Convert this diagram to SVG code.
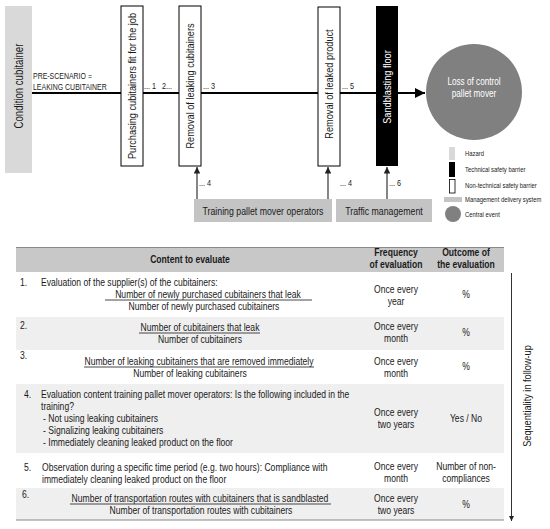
<svg xmlns="http://www.w3.org/2000/svg" width="550" height="529" viewBox="0 0 550 529">
<defs>
<marker id="ahMain" viewBox="0 0 10 10" refX="10" refY="5" markerWidth="5" markerHeight="5" orient="auto" markerUnits="strokeWidth"><path d="M0,0 L10,5 L0,10 z" fill="#000"/></marker>
<marker id="ahUp" viewBox="0 0 10 10" refX="10" refY="5" markerWidth="5" markerHeight="5" orient="auto" markerUnits="strokeWidth"><path d="M0,0 L10,5 L0,10 z" fill="#222"/></marker>
</defs>
<style>
text{font-family:"Liberation Sans",Arial,sans-serif;fill:#1a1a1a}
.lbl{font-size:10.7px}
.sm{font-size:8.4px}
.lg{font-size:7px}
.t{font-size:10px}
.tb{font-size:10px;font-weight:bold}
.c{text-anchor:middle}
.w{fill:#fff}
.box{fill:#fff;stroke:#000;stroke-width:1}
.mgmt{fill:#c4c4c4}
.bar{stroke:#1a1a1a;stroke-width:0.8}
</style>
<rect width="550" height="529" fill="#fff"/>

<g id="connectors">
<line x1="32" y1="93" x2="425" y2="93" stroke="#000" stroke-width="2" marker-end="url(#ahMain)"/>
<line x1="197" y1="199" x2="197" y2="167" stroke="#444" stroke-width="1.3" marker-end="url(#ahUp)"/>
<line x1="328" y1="199" x2="328" y2="167" stroke="#444" stroke-width="1.3" marker-end="url(#ahUp)"/>
<line x1="387" y1="199" x2="387" y2="167" stroke="#444" stroke-width="1.3" marker-end="url(#ahUp)"/>
<text class="sm" transform="translate(144,89) scale(.86,1)">... 1</text>
<text class="sm" transform="translate(162,89) scale(.86,1)">2...</text>
<text class="sm" transform="translate(203,89) scale(.86,1)">... 3</text>
<text class="sm" transform="translate(342,89) scale(.86,1)">... 5</text>
<text class="sm" transform="translate(199,186) scale(.86,1)">... 4</text>
<text class="sm" transform="translate(340,186) scale(.86,1)">... 4</text>
<text class="sm" transform="translate(389,186) scale(.86,1)">... 6</text>
</g>

<g id="hazard">
<rect x="5" y="6" width="27" height="167" fill="#d9d9d9"/>
<text class="c" font-size="12px" transform="translate(22.8,86) rotate(-90) scale(.8,1)">Condition cubitainer</text>
<text class="sm" transform="translate(33,79) scale(.83,1)">PRE-SCENARIO =</text>
<text class="sm" transform="translate(33,90) scale(.83,1)">LEAKING CUBITAINER</text>
</g>

<g id="barrier-purchasing">
<rect class="box" x="121" y="6" width="22" height="160"/>
<text class="lbl c" transform="translate(135.8,86) rotate(-90) scale(.86,1)">Purchasing cubitainers fit for the job</text>
</g>
<g id="barrier-removal-cubitainers">
<rect class="box" x="179" y="6" width="22" height="160"/>
<text class="lbl c" transform="translate(193.8,86) rotate(-90) scale(.86,1)">Removal of leaking cubitainers</text>
</g>
<g id="barrier-removal-product">
<rect class="box" x="318" y="7" width="22" height="159"/>
<text class="lbl c" transform="translate(332.8,84) rotate(-90) scale(.86,1)">Removal of leaked product</text>
</g>
<g id="barrier-sandblasting">
<rect x="376" y="6" width="22" height="160" fill="#000"/>
<text class="lbl c w" transform="translate(390.8,87) rotate(-90) scale(.86,1)">Sandblasting floor</text>
</g>
<g id="mgmt-training">
<rect class="mgmt" x="194" y="199" width="138" height="23"/>
<text class="c" font-size="10.2px" transform="translate(263,214.5) scale(.86,1)">Training pallet mover operators</text>
</g>
<g id="mgmt-traffic">
<rect class="mgmt" x="336" y="199" width="96" height="23"/>
<text class="c" font-size="10.2px" transform="translate(384,214.5) scale(.86,1)">Traffic management</text>
</g>
<g id="central-event">
<circle cx="474" cy="92" r="48" fill="#808080"/>
<text class="c w" font-size="10px" transform="translate(474,85) scale(.82,1)">Loss of control</text>
<text class="c w" font-size="10px" transform="translate(474,97) scale(.82,1)">pallet mover</text>
</g>

<g id="legend">
<rect x="449" y="147" width="6" height="13" fill="#d9d9d9"/>
<text class="lg" transform="translate(465,156) scale(.84,1)">Hazard</text>
<rect x="449" y="162" width="6" height="15" fill="#000"/>
<text class="lg" transform="translate(465,172) scale(.84,1)">Technical safety barrier</text>
<rect x="449.5" y="179.5" width="5.5" height="13.5" fill="#fff" stroke="#000" stroke-width="0.8"/>
<text class="lg" transform="translate(465,188) scale(.84,1)">Non-technical safety barrier</text>
<rect x="444" y="197" width="18" height="5" fill="#c4c4c4"/>
<text class="lg" transform="translate(465,202) scale(.84,1)">Management delivery system</text>
<circle cx="453" cy="214" r="8" fill="#808080"/>
<text class="lg" transform="translate(465,217) scale(.84,1)">Central event</text>
</g>

<g id="table">
<rect x="16" y="247" width="488" height="25" fill="#c8c8c8"/>
<line x1="16" y1="247.5" x2="504" y2="247.5" stroke="#888" stroke-width="1"/>
<rect x="16" y="317" width="488" height="33" fill="#efefef"/>
<rect x="16" y="384" width="488" height="69" fill="#efefef"/>
<rect x="16" y="488" width="488" height="32" fill="#efefef"/>
<line x1="16" y1="520" x2="504" y2="520" stroke="#888" stroke-width="1"/>

<text class="tb c" transform="translate(190,263) scale(.86,1)">Content to evaluate</text>
<text class="tb c" transform="translate(396,256) scale(.86,1)">Frequency</text>
<text class="tb c" transform="translate(396,268) scale(.86,1)">of evaluation</text>
<text class="tb c" transform="translate(466,256) scale(.86,1)">Outcome of</text>
<text class="tb c" transform="translate(466,268) scale(.86,1)">the evaluation</text>

<text class="t" transform="translate(20,286) scale(.86,1)">1.</text>
<text class="t" transform="translate(41,286) scale(.86,1)">Evaluation of the supplier(s) of the cubitainers:</text>
<text class="t c" transform="translate(208,298) scale(.86,1)">Number of newly purchased cubitainers that leak</text>
<line class="bar" x1="105" y1="300" x2="312" y2="300"/>
<text class="t c" transform="translate(204,310) scale(.86,1)">Number of newly purchased cubitainers</text>
<text class="t c" transform="translate(396,293) scale(.86,1)">Once every</text>
<text class="t c" transform="translate(396,305) scale(.86,1)">year</text>
<text class="t c" transform="translate(466,298) scale(.86,1)">%</text>

<text class="t" transform="translate(20,329) scale(.86,1)">2.</text>
<text class="t c" transform="translate(200,331) scale(.86,1)">Number of cubitainers that leak</text>
<line class="bar" x1="139" y1="333" x2="260" y2="333"/>
<text class="t c" transform="translate(200,343) scale(.86,1)">Number of cubitainers</text>
<text class="t c" transform="translate(396,330) scale(.86,1)">Once every</text>
<text class="t c" transform="translate(396,342) scale(.86,1)">month</text>
<text class="t c" transform="translate(466,336) scale(.86,1)">%</text>

<text class="t" transform="translate(20,359) scale(.86,1)">3.</text>
<text class="t c" transform="translate(199,365) scale(.86,1)">Number of leaking cubitainers that are removed immediately</text>
<line class="bar" x1="84" y1="367" x2="314" y2="367"/>
<text class="t c" transform="translate(190,377) scale(.86,1)">Number of leaking cubitainers</text>
<text class="t c" transform="translate(396,365) scale(.86,1)">Once every</text>
<text class="t c" transform="translate(396,377) scale(.86,1)">month</text>
<text class="t c" transform="translate(466,370) scale(.86,1)">%</text>

<text class="t" transform="translate(24,398) scale(.86,1)">4.</text>
<text class="t" transform="translate(41,398) scale(.86,1)">Evaluation content training pallet mover operators: Is the following included in the</text>
<text class="t" transform="translate(41,410) scale(.86,1)">training?</text>
<text class="t" transform="translate(43,422) scale(.86,1)">-  Not using leaking cubitainers</text>
<text class="t" transform="translate(43,434) scale(.86,1)">-  Signalizing leaking cubitainers</text>
<text class="t" transform="translate(43,446) scale(.86,1)">-  Immediately cleaning leaked product on the floor</text>
<text class="t c" transform="translate(396,416) scale(.86,1)">Once every</text>
<text class="t c" transform="translate(396,428) scale(.86,1)">two years</text>
<text class="t c" transform="translate(466,422) scale(.86,1)">Yes / No</text>

<text class="t" transform="translate(24,471) scale(.86,1)">5.</text>
<text class="t" transform="translate(42,471) scale(.86,1)">Observation during a specific time period (e.g. two hours): Compliance with</text>
<text class="t" transform="translate(42,483) scale(.86,1)">immediately cleaning leaked product on the floor</text>
<text class="t c" transform="translate(396,470) scale(.86,1)">Once every</text>
<text class="t c" transform="translate(396,482) scale(.86,1)">month</text>
<text class="t c" transform="translate(466,470) scale(.86,1)">Number of non-</text>
<text class="t c" transform="translate(466,482) scale(.86,1)">compliances</text>

<text class="t" transform="translate(22,498) scale(.86,1)">6.</text>
<text class="t c" transform="translate(200,502) scale(.86,1)">Number of transportation routes with cubitainers that is sandblasted</text>
<line class="bar" x1="70" y1="504" x2="331" y2="504"/>
<text class="t c" transform="translate(201,514) scale(.86,1)">Number of transportation routes with cubitainers</text>
<text class="t c" transform="translate(396,502) scale(.86,1)">Once every</text>
<text class="t c" transform="translate(396,514) scale(.86,1)">two years</text>
<text class="t c" transform="translate(466,508) scale(.86,1)">%</text>
</g>

<g id="sequence">
<line x1="511.5" y1="273" x2="511.5" y2="521" stroke="#333" stroke-width="1" marker-end="url(#ahUp)"/>
<text font-size="10.7px" class="c" transform="translate(530.5,396) rotate(-90) scale(.86,1)">Sequentiality in follow-up</text>
</g>
</svg>
